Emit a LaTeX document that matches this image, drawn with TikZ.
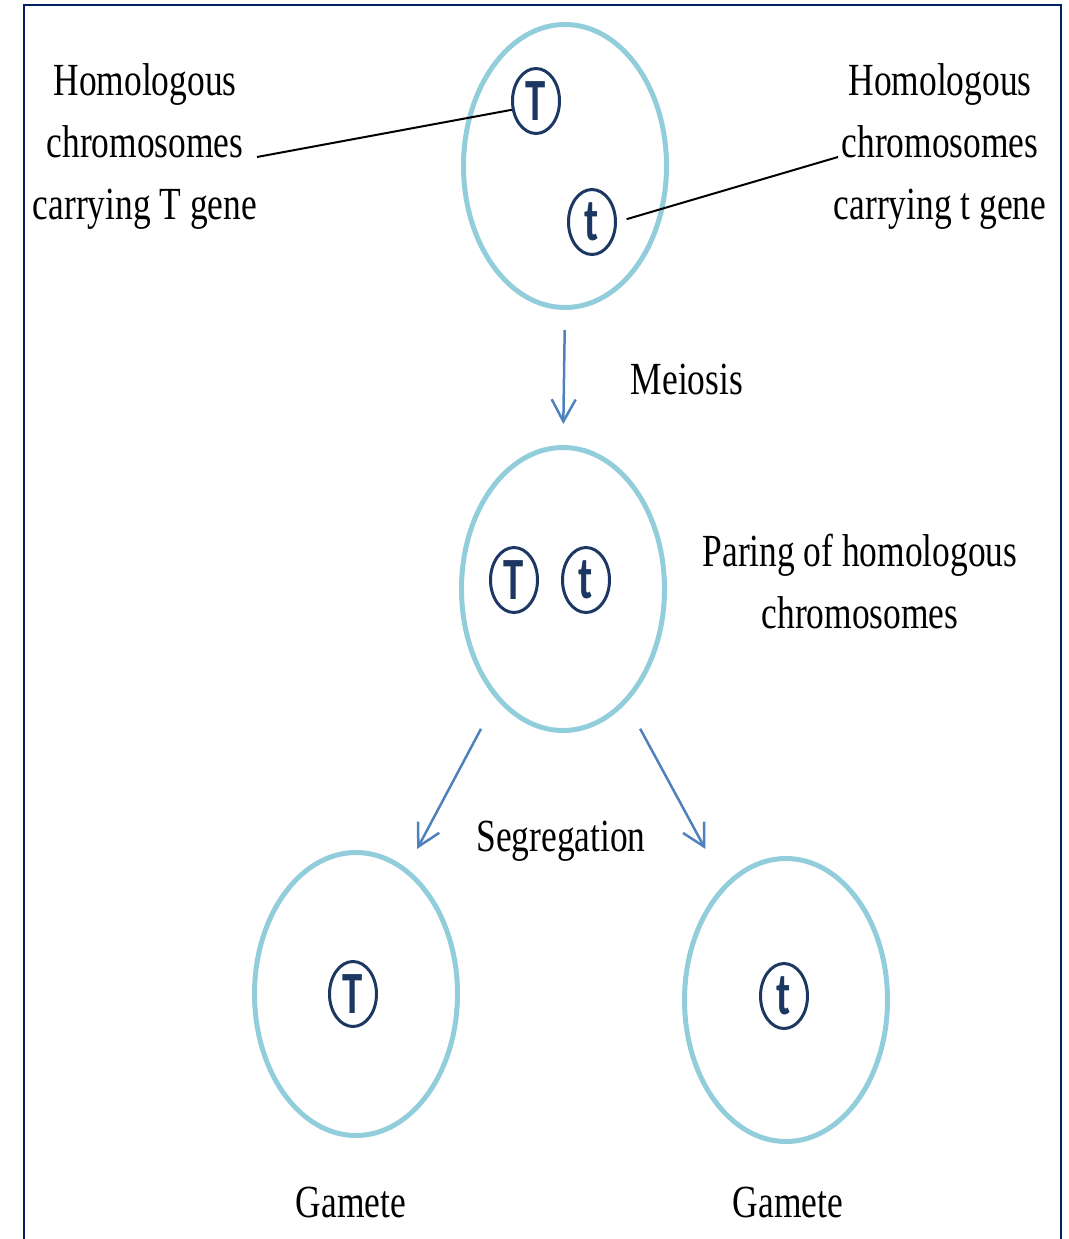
\documentclass[tikz,border=0pt]{standalone}
\usepackage{fontspec}
\setmainfont{Liberation Serif}[FakeStretch=0.77]
\newfontfamily\genefont{Carlito}[FakeStretch=0.68]
\usetikzlibrary{shapes}
\usetikzlibrary{arrows.meta}

\definecolor{cellblue}{RGB}{146,205,220}
\definecolor{genenavy}{RGB}{28,56,98}
\definecolor{arrowblue}{RGB}{79,129,189}
\definecolor{framenavy}{RGB}{0,32,96}

\begin{document}
\begin{tikzpicture}[
	x=1pt,
	y=-1pt]

\tikzstyle{cell}=[ellipse,draw=cellblue,line width=5pt,
	minimum width=203pt,minimum height=283pt,inner sep=0pt]
\tikzstyle{gene}=[ellipse,draw=genenavy,line width=3pt,
	minimum width=47pt,minimum height=65pt,inner sep=0pt,
	text=genenavy,font=\genefont\bfseries\fontsize{60}{60}\selectfont]
\tikzstyle{caption}=[align=center,inner sep=0pt,
	font=\fontsize{46}{62}\selectfont]
\tikzstyle{flow}=[draw=arrowblue,line width=2.5pt,
	-{Straight Barb[length=22pt,width=24pt]}]
\tikzstyle{pointer}=[black,line width=2pt]

\useasboundingbox (0,0) rectangle (1068,1239);

% Frame
\draw[framenavy,line width=2.5pt] (24,1245) |- (1061,5) -- (1061,1245);

% Parent cell
\node[cell] (parent) at (565,166) {};
\node[gene] (parentT) at (536,101) {T};
\node[gene] (parentt) at (592,222) {t};

% Labels of parent genes (base = last line)
\node[caption,anchor=base] (labelT) at (145,219)
	{Homologous\\chromosomes\\carrying T gene};
\node[caption,anchor=base] (labelt) at (940,219)
	{Homologous\\chromosomes\\carrying t gene};
\coordinate (endT) at (257,157);
\coordinate (endt) at (838,157);
\draw[pointer] (endT) -- (parentT.200);
\draw[pointer,shorten <=10pt] (parentt.east) -- (endt);

% Meiosis
\node[cell] (pair) at (563,589) {};
\node[gene] (pairT) at (514,580) {T};
\node[gene] (pairt) at (586,580) {t};
\draw[flow,shorten <=20pt,shorten >=21pt] (parent.south) -- (pair.north);
\node[caption,anchor=base] (meiosis) at (687,394) {Meiosis};
\node[caption,anchor=base] (paring) at (860,628)
	{Paring of homologous\\chromosomes};

% Gametes
\node[cell] (gameteT) at (356,994) {};
\node[cell] (gametet) at (786,1000) {};
\node[gene] (geneT) at (353,994) {T};
\node[gene] (genet) at (784,996) {t};
\draw[flow,shorten <=33pt,shorten >=22pt] (pair.239) -- (gameteT.68);
\draw[flow,shorten <=29pt,shorten >=40pt] (pair.299) -- (gametet.118);
\node[caption,anchor=base] (segregation) at (561,851) {Segregation};
\node[caption,anchor=base] (nameT) at (351,1217) {Gamete};
\node[caption,anchor=base] (namet) at (788,1217) {Gamete};

\end{tikzpicture}
\end{document}
